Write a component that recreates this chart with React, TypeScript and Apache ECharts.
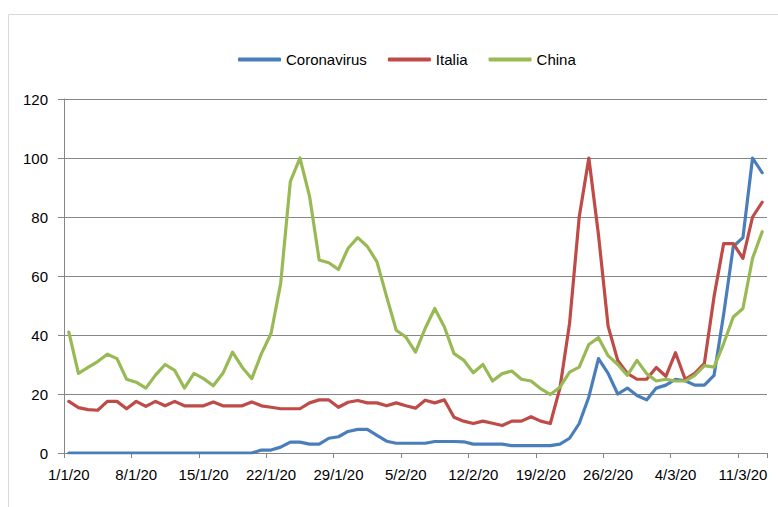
import React, { useEffect, useRef } from "react";
import * as echarts from "echarts";

const dates: string[] = [
  "1/1/20","2/1/20","3/1/20","4/1/20","5/1/20","6/1/20","7/1/20","8/1/20","9/1/20","10/1/20",
  "11/1/20","12/1/20","13/1/20","14/1/20","15/1/20","16/1/20","17/1/20","18/1/20","19/1/20","20/1/20",
  "21/1/20","22/1/20","23/1/20","24/1/20","25/1/20","26/1/20","27/1/20","28/1/20","29/1/20","30/1/20",
  "31/1/20","1/2/20","2/2/20","3/2/20","4/2/20","5/2/20","6/2/20","7/2/20","8/2/20","9/2/20",
  "10/2/20","11/2/20","12/2/20","13/2/20","14/2/20","15/2/20","16/2/20","17/2/20","18/2/20","19/2/20",
  "20/2/20","21/2/20","22/2/20","23/2/20","24/2/20","25/2/20","26/2/20","27/2/20","28/2/20","29/2/20",
  "1/3/20","2/3/20","3/3/20","4/3/20","5/3/20","6/3/20","7/3/20","8/3/20","9/3/20","10/3/20",
  "11/3/20","12/3/20","13/3/20",
];

const coronavirus: number[] = [
  0, 0, 0, 0, 0, 0, 0, 0, 0, 0,
  0, 0, 0, 0, 0, 0, 0, 0, 0, 0,
  1, 1, 2, 3.7, 3.7, 3, 3, 5, 5.5, 7.3,
  8, 8, 6, 4, 3.3, 3.3, 3.3, 3.3, 3.9, 3.9,
  3.9, 3.8, 3, 3, 3, 3, 2.5, 2.5, 2.5, 2.5,
  2.5, 3, 5, 10, 19, 32, 27, 20, 22, 19.5,
  18, 22, 23, 25, 24.5, 23, 23, 26.3, 47, 70,
  73, 100, 95,
];

const italia: number[] = [
  17.5, 15.4, 14.7, 14.5, 17.5, 17.5, 15, 17.5, 15.8, 17.5,
  16, 17.5, 16, 16, 16, 17.3, 16, 16, 16, 17.3,
  16, 15.5, 15, 15, 15, 17, 18, 18, 15.5, 17.2,
  17.8, 17, 17, 16, 17, 16, 15.2, 17.9, 17, 18,
  12.1, 10.8, 10, 10.8, 10.1, 9.3, 10.8, 10.8, 12.3, 10.8,
  10, 22, 44, 80, 100, 74, 43, 31.4, 27, 25,
  25, 29, 26, 34, 25, 27, 30.4, 53, 71, 71,
  66, 80, 85,
];

const china: number[] = [
  41, 27, 29, 31, 33.5, 32, 25, 24, 22, 26.4,
  30, 28, 22, 27, 25.2, 22.8, 27, 34.2, 29.1, 25.2,
  33.7, 40.5, 57.5, 92, 100, 87, 65.4, 64.5, 62.2, 69.4,
  73, 70, 64.8, 53, 41.6, 39.3, 34.2, 42.2, 49, 42.7,
  33.7, 31.5, 27.2, 30, 24.4, 26.9, 27.8, 25, 24.4, 21.8,
  19.8, 22.3, 27.4, 29.1, 36.8, 39.1, 33, 30, 26.3, 31.4,
  26.9, 24.4, 25, 24.4, 24.4, 26.3, 29.6, 29.1, 37.1, 46.1,
  49, 66, 75,
];

const seriesNames = ["Coronavirus", "Italia", "China"];
const seriesColors = ["#4A7EBB", "#BE4B48", "#98B954"];

export default function App() {
  const ref = useRef<HTMLDivElement>(null);
  useEffect(() => {
    if (!ref.current) return;
    const chart = echarts.init(ref.current, undefined, { renderer: "svg" });
    const font = "'Liberation Sans', Arial, sans-serif";
    const values = [coronavirus, italia, china];
    chart.setOption({
      animation: false,
      backgroundColor: "#ffffff",
      textStyle: { fontFamily: font },
      graphic: [
        {
          type: "rect",
          shape: { x: 8.5, y: 14.5, width: 900, height: 700 },
          style: { fill: "none", stroke: "#d9d9d9", lineWidth: 1 },
          silent: true,
          z: -10,
        },
      ],
      legend: {
        left: 238,
        top: 52,
        padding: 0,
        itemWidth: 43,
        itemHeight: 4,
        itemGap: 21,
        icon: "roundRect",
        textStyle: { fontFamily: font, fontSize: 15, color: "#000000" },
        data: seriesNames,
      },
      grid: { left: 64, right: 11, top: 99, bottom: 54, containLabel: false },
      xAxis: {
        type: "category",
        data: dates,
        boundaryGap: true,
        axisLine: { show: true, lineStyle: { color: "#868686", width: 1 } },
        axisTick: { show: true, interval: 6, length: 5, lineStyle: { color: "#868686" } },
        axisLabel: { interval: 6, margin: 14, fontSize: 15, color: "#000000", fontFamily: font },
        splitLine: { show: false },
      },
      yAxis: {
        type: "value",
        min: 0,
        max: 120,
        interval: 20,
        axisLine: { show: true, lineStyle: { color: "#868686", width: 1 } },
        axisTick: { show: true, length: 6, lineStyle: { color: "#868686" } },
        axisLabel: { margin: 16, fontSize: 15, color: "#000000", fontFamily: font },
        splitLine: { show: true, lineStyle: { color: "#868686", width: 1 } },
      },
      series: seriesNames.map((name, k) => ({
        name,
        type: "line",
        data: values[k],
        symbol: "none",
        showSymbol: false,
        smooth: false,
        color: seriesColors[k],
        lineStyle: { width: 3.2, color: seriesColors[k], cap: "round", join: "round" },
        itemStyle: { color: seriesColors[k] },
      })),
    });
    return () => chart.dispose();
  }, []);
  return (
    <div
      ref={ref}
      style={{ position: "absolute", left: 0, top: 0, width: 778, height: 507 }}
    />
  );
}
